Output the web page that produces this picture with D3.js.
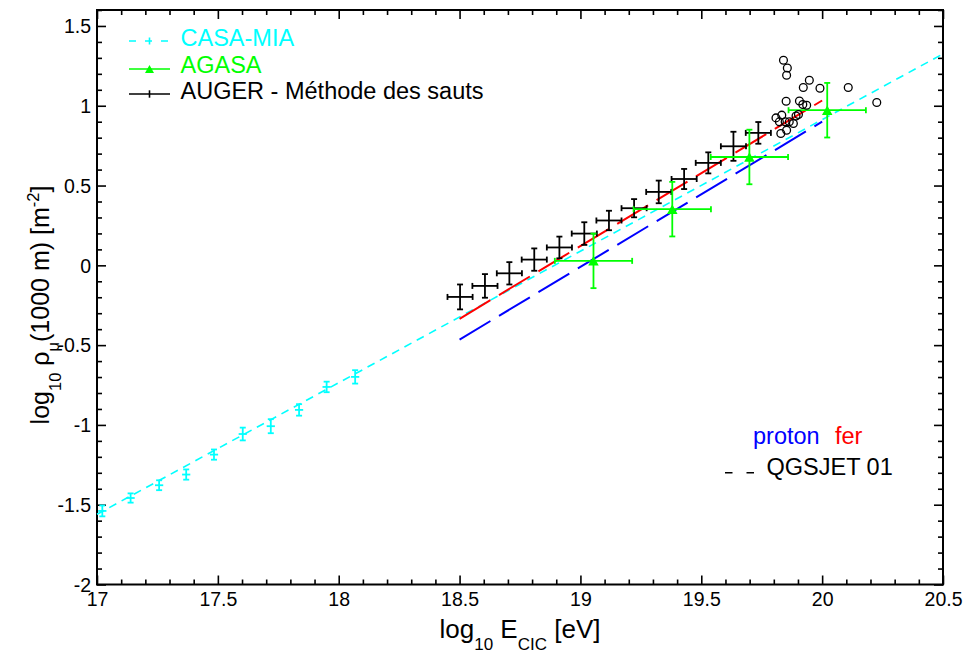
<!DOCTYPE html>
<html><head><meta charset="utf-8">
<script src="https://cdn.jsdelivr.net/npm/d3@7"></script>
<style>
body{margin:0;background:#fff}
svg text{font-family:"Liberation Sans",Arial,Helvetica,sans-serif}
</style>
</head><body>
<svg id="chart" width="964" height="653"></svg>
<script>
// ---------------- data ----------------
const xTickValues = [17, 17.5, 18, 18.5, 19, 19.5, 20, 20.5];
const xTickLabels = ["17", "17.5", "18", "18.5", "19", "19.5", "20", "20.5"];
const yTickValues = [-2, -1.5, -1, -0.5, 0, 0.5, 1, 1.5];
const yTickLabels = ["-2", "-1.5", "-1", "-0.5", "0", "0.5", "1", "1.5"];

// CASA-MIA
const casaX    = [17.022, 17.139, 17.257, 17.369, 17.484, 17.603, 17.719, 17.836, 17.950, 18.068];
const casaY    = [-1.539, -1.458, -1.378, -1.311, -1.186, -1.057, -1.008, -0.906, -0.762, -0.699];
const casaErrX = [0.017, 0.017, 0.017, 0.017, 0.017, 0.017, 0.017, 0.017, 0.017, 0.017];
const casaErrY = [0.034, 0.029, 0.031, 0.032, 0.032, 0.040, 0.044, 0.036, 0.033, 0.042];
const casaFitX = [17.0, 20.5];
const casaFitY = [-1.56, 1.325];

// AGASA
const agasaX    = [19.054, 19.380, 19.699, 20.021];
const agasaY    = [0.028, 0.352, 0.679, 0.972];
const agasaErrX = [0.16, 0.16, 0.16, 0.16];
const agasaErrY = [0.171, 0.171, 0.171, 0.171];

// AUGER - méthode des sauts
const augerX    = [18.502, 18.605, 18.706, 18.809, 18.913, 19.016, 19.118, 19.222, 19.324, 19.429, 19.529, 19.633, 19.736];
const augerY    = [-0.198, -0.129, -0.050, 0.036, 0.112, 0.199, 0.281, 0.358, 0.460, 0.541, 0.642, 0.746, 0.830];
const augerErrX = [0.052, 0.052, 0.052, 0.052, 0.052, 0.052, 0.052, 0.052, 0.052, 0.052, 0.052, 0.052, 0.052];
const augerErrY = [0.078, 0.074, 0.070, 0.070, 0.068, 0.071, 0.061, 0.057, 0.071, 0.063, 0.066, 0.091, 0.068];

// open circles (individual events)
const circX = [19.840, 19.856, 19.853, 19.947, 19.922, 19.991, 20.108, 19.851, 19.906, 19.920, 19.936, 20.226,
               19.809, 19.833, 19.823, 19.847, 19.864, 19.881, 19.892, 19.902, 19.853, 19.829];
const circY = [1.285, 1.237, 1.191, 1.160, 1.114, 1.110, 1.114, 1.028, 1.030, 1.008, 1.003, 1.020,
               0.924, 0.941, 0.899, 0.899, 0.899, 0.889, 0.936, 0.945, 0.847, 0.826];

// QGSJET 01 simulations
const ferX = [18.5, 20.0];
const ferY = [-0.335, 1.033];
const protonX = [18.5, 20.0];
const protonY = [-0.465, 0.900];

const legendLabels = ["CASA-MIA", "AGASA", "AUGER - Méthode des sauts"];
const modelLabels = ["proton", "fer", "QGSJET 01"];

// ---------------- drawing ----------------
const CYAN = "#00ffff", GREEN = "#00ff00", RED = "#ff0000", BLUE = "#0000ff";
const svg = d3.select("#chart");
svg.append("rect").attr("width", 964).attr("height", 653).attr("fill", "#fff");

const L = 97, R = 943, T = 10, B = 584.5;
const x = d3.scaleLinear().domain([17, 20.5]).range([L, R]);
const y = d3.scaleLinear().domain([-2, 1.6]).range([B, T]);

const r1 = v => Math.round(v * 10) / 10;
const xMinor = d3.range(17, 20.5001, 0.1).map(r1).filter(v => !xTickValues.includes(v));
const yMinor = d3.range(-2, 1.6001, 0.1).map(r1).filter(v => !yTickValues.includes(v));

function styleAxis(g) {
  g.select(".domain").remove();
  g.selectAll(".tick line").attr("stroke", "#000").attr("stroke-width", 1.6);
}
// bottom
svg.append("g").attr("transform", `translate(0,${B})`)
  .call(d3.axisBottom(x).tickValues(xTickValues).tickSize(-9)
        .tickFormat((d, i) => xTickLabels[i]))
  .call(styleAxis)
  .call(g => g.selectAll("text").attr("y", 0).attr("dy", 21.5)
        .attr("font-size", 19.5).attr("fill", "#000")
        .style("font-family", '"Liberation Sans",Arial,sans-serif'));
svg.append("g").attr("transform", `translate(0,${B})`)
  .call(d3.axisBottom(x).tickValues(xMinor).tickSize(-5).tickFormat(""))
  .call(styleAxis);
// top
svg.append("g").attr("transform", `translate(0,${T})`)
  .call(d3.axisTop(x).tickValues(xTickValues).tickSize(-9).tickFormat(""))
  .call(styleAxis);
svg.append("g").attr("transform", `translate(0,${T})`)
  .call(d3.axisTop(x).tickValues(xMinor).tickSize(-5).tickFormat(""))
  .call(styleAxis);
// left
svg.append("g").attr("transform", `translate(${L},0)`)
  .call(d3.axisLeft(y).tickValues(yTickValues).tickSize(-9)
        .tickFormat((d, i) => yTickLabels[i]))
  .call(styleAxis)
  .call(g => g.selectAll("text").attr("x", -6).attr("dy", "0.35em")
        .attr("font-size", 19.5).attr("fill", "#000")
        .style("font-family", '"Liberation Sans",Arial,sans-serif'));
svg.append("g").attr("transform", `translate(${L},0)`)
  .call(d3.axisLeft(y).tickValues(yMinor).tickSize(-5).tickFormat(""))
  .call(styleAxis);
// right
svg.append("g").attr("transform", `translate(${R},0)`)
  .call(d3.axisRight(y).tickValues(yTickValues).tickSize(-9).tickFormat(""))
  .call(styleAxis);
svg.append("g").attr("transform", `translate(${R},0)`)
  .call(d3.axisRight(y).tickValues(yMinor).tickSize(-5).tickFormat(""))
  .call(styleAxis);

// frame
svg.append("rect").attr("x", L).attr("y", T).attr("width", R - L).attr("height", B - T)
  .attr("fill", "none").attr("stroke", "#000").attr("stroke-width", 2);

// lines
const lineGen = d3.line().x(d => x(d[0])).y(d => y(d[1]));
const plot = svg.append("g");
plot.append("path").datum(d3.zip(casaFitX, casaFitY)).attr("d", lineGen)
  .attr("stroke", CYAN).attr("stroke-width", 1.6).attr("stroke-dasharray", "8,6").attr("fill", "none");
plot.append("path").datum(d3.zip(protonX, protonY)).attr("d", lineGen)
  .attr("stroke", BLUE).attr("stroke-width", 2).attr("stroke-dasharray", "36,10").attr("fill", "none");
plot.append("path").datum(d3.zip(ferX, ferY)).attr("d", lineGen)
  .attr("stroke", RED).attr("stroke-width", 2).attr("stroke-dasharray", "36,10").attr("fill", "none");

function errorBars(xs, ys, exs, eys, color, capX, capY, sw) {
  const g = plot.append("g").attr("stroke", color).attr("stroke-width", sw).attr("fill", "none");
  xs.forEach((xv, i) => {
    const cx = x(xv), cy = y(ys[i]);
    const x0 = x(xv - exs[i]), x1 = x(xv + exs[i]);
    const y0 = y(ys[i] - eys[i]), y1 = y(ys[i] + eys[i]);
    g.append("line").attr("x1", x0).attr("x2", x1).attr("y1", cy).attr("y2", cy);
    g.append("line").attr("x1", cx).attr("x2", cx).attr("y1", y0).attr("y2", y1);
    if (capX) {
      g.append("line").attr("x1", x0).attr("x2", x0).attr("y1", cy - capX).attr("y2", cy + capX);
      g.append("line").attr("x1", x1).attr("x2", x1).attr("y1", cy - capX).attr("y2", cy + capX);
    }
    if (capY) {
      g.append("line").attr("x1", cx - capY).attr("x2", cx + capY).attr("y1", y0).attr("y2", y0);
      g.append("line").attr("x1", cx - capY).attr("x2", cx + capY).attr("y1", y1).attr("y2", y1);
    }
  });
}
errorBars(casaX, casaY, casaErrX, casaErrY, CYAN, 0, 3, 1.8);
errorBars(augerX, augerY, augerErrX, augerErrY, "#000", 3, 3, 1.8);
errorBars(agasaX, agasaY, agasaErrX, agasaErrY, GREEN, 3, 3, 1.8);

const tri = (w, h) => `M0,${-h / 2}L${w / 2},${h / 2}L${-w / 2},${h / 2}Z`;
plot.append("g").selectAll("path").data(d3.zip(agasaX, agasaY)).join("path")
  .attr("transform", d => `translate(${x(d[0])},${y(d[1])})`)
  .attr("d", tri(10.5, 9.5)).attr("fill", GREEN);

plot.append("g").selectAll("circle").data(d3.zip(circX, circY)).join("circle")
  .attr("cx", d => x(d[0])).attr("cy", d => y(d[1])).attr("r", 3.9)
  .attr("fill", "none").attr("stroke", "#000").attr("stroke-width", 1.3);

// legend (top-left)
const leg = svg.append("g");
const legColors = [CYAN, GREEN, "#000"];
const legLineY = [41, 69, 94];
const legTextY = [45.5, 73, 98.5];
legendLabels.forEach((lab, i) => {
  const ly = legLineY[i];
  if (i === 0) {
    leg.append("line").attr("x1", 129).attr("x2", 169).attr("y1", ly).attr("y2", ly)
      .attr("stroke", CYAN).attr("stroke-width", 1.6).attr("stroke-dasharray", "7,9");
    leg.append("line").attr("x1", 149.5).attr("x2", 149.5).attr("y1", ly - 3.5).attr("y2", ly + 3.5)
      .attr("stroke", CYAN).attr("stroke-width", 1.6);
  } else {
    leg.append("line").attr("x1", 129).attr("x2", 170).attr("y1", ly).attr("y2", ly)
      .attr("stroke", legColors[i]).attr("stroke-width", 1.6);
    if (i === 1) {
      leg.append("path").attr("transform", `translate(149.5,${ly})`).attr("d", tri(9, 8)).attr("fill", GREEN);
    } else {
      leg.append("line").attr("x1", 149.5).attr("x2", 149.5).attr("y1", ly - 3.7).attr("y2", ly + 3.7)
        .attr("stroke", "#000").attr("stroke-width", 1.6);
    }
  }
  leg.append("text").attr("x", 180.5).attr("y", legTextY[i]).attr("font-size", 23.5)
    .attr("fill", legColors[i]).text(lab);
});

// legend (bottom-right)
svg.append("text").attr("x", 753).attr("y", 443.5).attr("font-size", 23.5).attr("fill", BLUE).text(modelLabels[0]);
svg.append("text").attr("x", 835).attr("y", 443.5).attr("font-size", 23.5).attr("fill", RED).text(modelLabels[1]);
svg.append("line").attr("x1", 725).attr("x2", 754).attr("y1", 472.7).attr("y2", 472.7)
  .attr("stroke", "#000").attr("stroke-width", 1.5).attr("stroke-dasharray", "7.5,14");
svg.append("text").attr("x", 766.5).attr("y", 475).attr("font-size", 23.5).attr("fill", "#000").text(modelLabels[2]);

// axis titles
const xt = svg.append("text").attr("x", 520).attr("y", 638).attr("text-anchor", "middle")
  .attr("font-size", 26).attr("fill", "#000");
xt.append("tspan").text("log");
xt.append("tspan").attr("font-size", 17).attr("dy", 12).text("10");
xt.append("tspan").attr("dy", -12).text(" E");
xt.append("tspan").attr("font-size", 17).attr("dy", 12).text("CIC");
xt.append("tspan").attr("dy", -12).text(" [eV]");

const yt = svg.append("text").attr("transform", "translate(49,305) rotate(-90)")
  .attr("text-anchor", "middle").attr("font-size", 25).attr("fill", "#000");
yt.append("tspan").text("log");
yt.append("tspan").attr("font-size", 16.5).attr("dy", 12).text("10");
yt.append("tspan").attr("dy", -12).text(" ρ");
yt.append("tspan").attr("font-size", 16.5).attr("dy", 10).text("μ");
yt.append("tspan").attr("dy", -10).text("(1000 m) [m");
yt.append("tspan").attr("font-size", 16.5).attr("dy", -10).text("-2");
yt.append("tspan").attr("dy", 10).text("]");
</script>
</body></html>
